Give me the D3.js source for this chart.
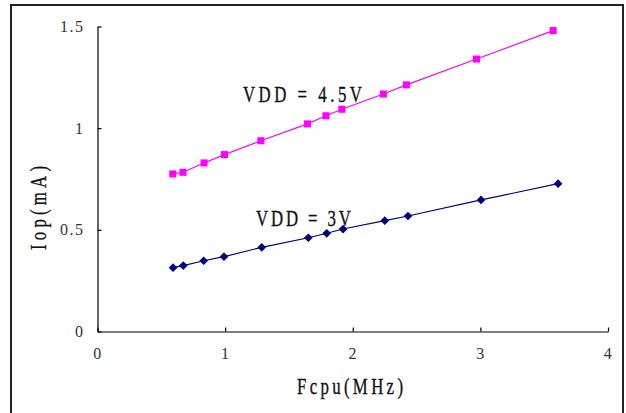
<!DOCTYPE html>
<html>
<head>
<meta charset="utf-8">
<script src="https://cdn.jsdelivr.net/npm/d3@7"></script>
<style>
  html, body { margin: 0; padding: 0; background: #fff; }
  svg { display: block; }
</style>
</head>
<body>
<svg id="chart" width="626" height="413"></svg>
<script>
// ---- data ----
const fcpu45 = [0.59, 0.67, 0.835, 0.995, 1.28, 1.645, 1.79, 1.915, 2.24, 2.42, 2.97, 3.57];
const iop45  = [0.775, 0.783, 0.829, 0.870, 0.938, 1.021, 1.061, 1.093, 1.168, 1.213, 1.340, 1.480];
const fcpu3  = [0.592, 0.672, 0.832, 0.991, 1.287, 1.652, 1.796, 1.924, 2.251, 2.433, 3.005, 3.609];
const iop3   = [0.314, 0.324, 0.348, 0.368, 0.414, 0.461, 0.483, 0.504, 0.545, 0.568, 0.647, 0.727];
const xTicks = [0, 1, 2, 3, 4];
const yTicks = [0, 0.5, 1, 1.5];
const seriesLabels = ["VDD = 4.5V", "VDD = 3V"];
const xTitle = "Fcpu(MHz)";
const yTitle = "Iop(mA)";

const svg = d3.select("#chart");
const x = d3.scaleLinear().domain([0, 4]).range([97.5, 608]);
const y = d3.scaleLinear().domain([0, 1.5]).range([331.5, 26.5]);

// outer frame
svg.append("rect")
  .attr("x", 11).attr("y", 5).attr("width", 612).attr("height", 430)
  .attr("fill", "none").attr("stroke", "#222").attr("stroke-width", 2);

const serif = "'Liberation Serif', 'DejaVu Serif', serif";

// axes
const gx = svg.append("g").attr("transform", `translate(0,${y(0)})`)
  .call(d3.axisBottom(x).tickValues(xTicks).tickSize(-4).tickSizeOuter(0).tickPadding(16)
    .tickFormat(d3.format("d")));
const gy = svg.append("g").attr("transform", `translate(${x(0)},0)`)
  .call(d3.axisLeft(y).tickValues(yTicks).tickSize(-4).tickSizeOuter(0).tickPadding(13)
    .tickFormat(d => d % 1 === 0 ? d3.format("d")(d) : d3.format(".1f")(d)));

[gx, gy].forEach(g => {
  g.selectAll("path.domain").attr("stroke", "#000").attr("stroke-width", 1.2);
  g.selectAll(".tick line").attr("stroke", "#000").attr("stroke-width", 1.2);
  g.selectAll(".tick text").attr("fill", "#333").style("font-family", serif)
    .style("font-size", "16px").style("letter-spacing", "1.5px");
});

// series
const s45 = fcpu45.map((v, i) => ({ x: v, y: iop45[i] }));
const s3 = fcpu3.map((v, i) => ({ x: v, y: iop3[i] }));
const line = d3.line().x(d => x(d.x)).y(d => y(d.y));

svg.append("path").datum(s45).attr("d", line)
  .attr("fill", "none").attr("stroke", "#FF00FF").attr("stroke-width", 1.2);
svg.append("path").datum(s3).attr("d", line)
  .attr("fill", "none").attr("stroke", "#000080").attr("stroke-width", 1.2);

svg.append("g").selectAll("path").data(s45).join("path")
  .attr("transform", d => `translate(${x(d.x)},${y(d.y)})`)
  .attr("d", d3.symbol(d3.symbolSquare, 50))
  .attr("fill", "#FF00FF");
svg.append("g").selectAll("path").data(s3).join("path")
  .attr("transform", d => `translate(${x(d.x)},${y(d.y)}) rotate(45)`)
  .attr("d", d3.symbol(d3.symbolSquare, 38))
  .attr("fill", "#000080");

// condensed serif text labels (narrow glyphs, wide monospace-like spacing)
const sx = 0.7;
function addText(str, px, py, len, rotate) {
  const g = svg.append("g")
    .attr("transform", `translate(${px},${py})${rotate ? " rotate(-90)" : ""} scale(${sx},1)`);
  g.append("text")
    .attr("x", 0).attr("y", 0)
    .attr("fill", "#111").attr("stroke", "#111").attr("stroke-width", 0.35)
    .style("font-family", serif).style("font-size", "24px")
    .attr("textLength", len / sx).attr("lengthAdjust", "spacing")
    .text(str);
}
addText(seriesLabels[0], 243, 102, 119);
addText(seriesLabels[1], 256, 226, 95);
addText(xTitle, 297, 394, 106);
addText(yTitle, 46, 250, 84, true);
</script>
</body>
</html>
